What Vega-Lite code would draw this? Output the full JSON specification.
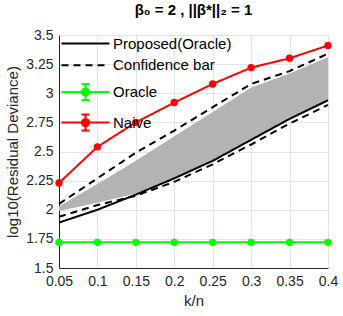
{
  "$schema": "https://vega.github.io/schema/vega-lite/v6.json",
  "width": 269,
  "height": 233,
  "autosize": "none",
  "padding": {"left": 59, "top": 35, "right": 15, "bottom": 48},
  "background": "white",
  "config": {
    "font": "Liberation Sans",
    "view": {"stroke": null},
    "axis": {
      "grid": true, "gridColor": "#e3e3e3", "gridWidth": 1,
      "domainColor": "#262626", "domainWidth": 1, "ticks": false,
      "labelFontSize": 14, "labelColor": "#262626", "labelPadding": 6, "labelFlush": false, "labelOverlap": false,
      "titleFontSize": 15, "titleFontWeight": "normal", "titleColor": "#262626", "titlePadding": 5
    },
    "axisQuantitative": {"labelOverlap": false},
    "axisX": {"labelOverlap": false},
    "axisY": {"labelOverlap": false}
  },
  "title": {"text": "β₀ = 2 ,  ||β*||₂ = 1", "fontSize": 15, "fontWeight": "bold", "color": "black", "offset": 10},
  "datasets": {
    "band": [
      {"k": 0.05, "v": 1.99, "v2": 2.03},
      {"k": 0.1, "v": 2.06, "v2": 2.22},
      {"k": 0.15, "v": 2.14, "v2": 2.42},
      {"k": 0.2, "v": 2.26, "v2": 2.63},
      {"k": 0.25, "v": 2.42, "v2": 2.84},
      {"k": 0.3, "v": 2.6, "v2": 3.05},
      {"k": 0.35, "v": 2.78, "v2": 3.17},
      {"k": 0.4, "v": 2.93, "v2": 3.31}
    ],
    "lines": [
      {"series": "Proposed(Oracle)", "line": "p", "k": 0.05, "v": 1.89},
      {"series": "Proposed(Oracle)", "line": "p", "k": 0.1, "v": 2.0},
      {"series": "Proposed(Oracle)", "line": "p", "k": 0.15, "v": 2.13},
      {"series": "Proposed(Oracle)", "line": "p", "k": 0.2, "v": 2.27},
      {"series": "Proposed(Oracle)", "line": "p", "k": 0.25, "v": 2.42},
      {"series": "Proposed(Oracle)", "line": "p", "k": 0.3, "v": 2.6},
      {"series": "Proposed(Oracle)", "line": "p", "k": 0.35, "v": 2.78},
      {"series": "Proposed(Oracle)", "line": "p", "k": 0.4, "v": 2.94},
      {"series": "Confidence bar", "line": "cu", "k": 0.05, "v": 2.05},
      {"series": "Confidence bar", "line": "cu", "k": 0.1, "v": 2.27},
      {"series": "Confidence bar", "line": "cu", "k": 0.15, "v": 2.49},
      {"series": "Confidence bar", "line": "cu", "k": 0.2, "v": 2.68},
      {"series": "Confidence bar", "line": "cu", "k": 0.25, "v": 2.88},
      {"series": "Confidence bar", "line": "cu", "k": 0.3, "v": 3.08},
      {"series": "Confidence bar", "line": "cu", "k": 0.35, "v": 3.19},
      {"series": "Confidence bar", "line": "cu", "k": 0.4, "v": 3.34},
      {"series": "Confidence bar", "line": "cl", "k": 0.05, "v": 1.94},
      {"series": "Confidence bar", "line": "cl", "k": 0.1, "v": 2.04},
      {"series": "Confidence bar", "line": "cl", "k": 0.15, "v": 2.12},
      {"series": "Confidence bar", "line": "cl", "k": 0.2, "v": 2.24},
      {"series": "Confidence bar", "line": "cl", "k": 0.25, "v": 2.39},
      {"series": "Confidence bar", "line": "cl", "k": 0.3, "v": 2.56},
      {"series": "Confidence bar", "line": "cl", "k": 0.35, "v": 2.74},
      {"series": "Confidence bar", "line": "cl", "k": 0.4, "v": 2.9},
      {"series": "Oracle", "line": "o", "k": 0.05, "v": 1.72},
      {"series": "Oracle", "line": "o", "k": 0.1, "v": 1.72},
      {"series": "Oracle", "line": "o", "k": 0.15, "v": 1.72},
      {"series": "Oracle", "line": "o", "k": 0.2, "v": 1.72},
      {"series": "Oracle", "line": "o", "k": 0.25, "v": 1.72},
      {"series": "Oracle", "line": "o", "k": 0.3, "v": 1.72},
      {"series": "Oracle", "line": "o", "k": 0.35, "v": 1.72},
      {"series": "Oracle", "line": "o", "k": 0.4, "v": 1.72},
      {"series": "Naive", "line": "n", "k": 0.05, "v": 2.23},
      {"series": "Naive", "line": "n", "k": 0.1, "v": 2.54},
      {"series": "Naive", "line": "n", "k": 0.15, "v": 2.75},
      {"series": "Naive", "line": "n", "k": 0.2, "v": 2.92},
      {"series": "Naive", "line": "n", "k": 0.25, "v": 3.08},
      {"series": "Naive", "line": "n", "k": 0.3, "v": 3.22},
      {"series": "Naive", "line": "n", "k": 0.35, "v": 3.3},
      {"series": "Naive", "line": "n", "k": 0.4, "v": 3.41}
    ]
  },
  "encoding": {
    "x": {"field": "k", "type": "quantitative", "scale": {"domain": [0.05, 0.4], "nice": false, "zero": false},
          "axis": {"values": [0.05, 0.1, 0.15, 0.2, 0.25, 0.3, 0.35, 0.4], "labelExpr": "format(datum.value, '.3~g')", "title": "k/n", "labelOverlap": false}},
    "y": {"field": "v", "type": "quantitative", "scale": {"domain": [1.5, 3.5], "nice": false, "zero": false},
          "axis": {"values": [1.5, 1.75, 2, 2.25, 2.5, 2.75, 3, 3.25, 3.5], "labelExpr": "format(datum.value, '.3~g')", "title": "log10(Residual Deviance)", "labelOverlap": false}}
  },
  "layer": [
    {
      "data": {"name": "band"},
      "mark": {"type": "area", "color": "#b3b3b3", "opacity": 1},
      "encoding": {"y2": {"field": "v2"}}
    },
    {
      "data": {"name": "lines"},
      "mark": {"type": "line", "strokeWidth": 2},
      "encoding": {
        "detail": {"field": "line"},
        "color": {
          "field": "series", "type": "nominal",
          "scale": {"domain": ["Proposed(Oracle)", "Confidence bar", "Oracle", "Naive"], "range": ["#000000", "#000000", "#00ff00", "#ff0000"]},
          "legend": {
            "orient": "top-left", "offset": 0, "padding": 1, "title": null,
            "labelFontSize": 15, "labelColor": "black", "rowPadding": 5.7,
            "symbolSize": 144, "labelOffset": 38,
            "encode": {
              "symbols": {
                "update": {
                  "shape": {"signal": "datum.value === 'Oracle' || datum.value === 'Naive' ? 'M-1,0H7M3,-1.33V1.33M2.33,-1.33H3.67M2.33,1.33H3.67M3.6,0A0.6,0.6,0,1,1,2.4,0A0.6,0.6,0,1,1,3.6,0' : 'M-1,0H7'"},
                  "fill": {"signal": "datum.value === 'Oracle' ? '#00ff00' : datum.value === 'Naive' ? '#ff0000' : 'transparent'"},
                  "stroke": {"scale": "color", "field": "value"},
                  "strokeDash": {"signal": "datum.value === 'Confidence bar' ? [7,5] : [1,0]"},
                  "strokeWidth": {"value": 2},
                  "opacity": {"value": 1}
                }
              }
            }
          }
        },
        "strokeDash": {
          "field": "series", "type": "nominal",
          "scale": {"domain": ["Proposed(Oracle)", "Confidence bar", "Oracle", "Naive"], "range": [[1, 0], [7, 5], [1, 0], [1, 0]]},
          "legend": null
        }
      }
    },
    {
      "data": {"name": "lines"},
      "transform": [{"filter": "datum.series === 'Oracle' || datum.series === 'Naive'"}],
      "mark": {"type": "point", "filled": true, "size": 55, "opacity": 1},
      "encoding": {
        "color": {"field": "series", "type": "nominal"}
      }
    }
  ]
}
